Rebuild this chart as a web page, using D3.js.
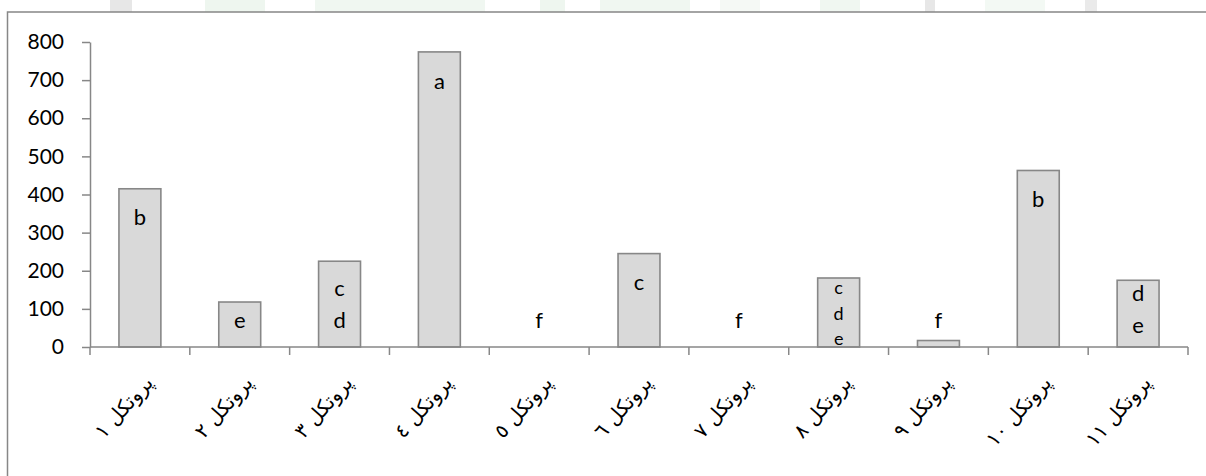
<!DOCTYPE html>
<html>
<head>
<meta charset="utf-8">
<script src="https://cdn.jsdelivr.net/npm/d3@7/dist/d3.min.js"></script>
<style>
  html, body { margin: 0; padding: 0; background: #ffffff; }
  svg { display: block; }
</style>
</head>
<body>
<svg id="chart" width="1206" height="476"></svg>
<script>
// Protocol names (x categories)
const categories = [
  "پروتکل ١", "پروتکل ٢", "پروتکل ٣", "پروتکل ٤", "پروتکل ٥", "پروتکل ٦",
  "پروتکل ٧", "پروتکل ٨", "پروتکل ٩", "پروتکل ١٠", "پروتکل ١١"
];
// Mean value per protocol
const values = [415, 118, 225, 774, 0, 245, 0, 181, 17, 463, 175];
// Significance groups (letters stacked one per line)
const groups = ["b", "e", "c d", "a", "f", "c", "f", "c d e", "f", "b", "d e"];
// Y axis ticks
const yTicks = [0, 100, 200, 300, 400, 500, 600, 700, 800];

const svg = d3.select("#chart");

const gridColor = "#878787";
const fontLatin = "Lato, 'Open Sans', sans-serif";
const fontArabic = "'DejaVu Sans', sans-serif";

// faint page background strip above the chart frame
const strip = svg.append("g").attr("opacity", 0.35);
[[110, 22, "#bdbdbd"], [205, 60, "#cfe6d2"], [315, 170, "#d6ead8"], [540, 25, "#cfe6d2"],
 [600, 90, "#d6ead8"], [720, 40, "#e3efe4"], [820, 40, "#d6ead8"], [925, 10, "#bdbdbd"],
 [985, 60, "#dfeee0"], [1085, 12, "#c4c4c4"]].forEach(([x, w, c]) => {
  strip.append("rect").attr("x", x).attr("y", 0).attr("width", w).attr("height", 12).attr("fill", c);
});

// chart frame (extends past the right and bottom edge)
svg.append("rect")
  .attr("x", 7.5).attr("y", 12)
  .attr("width", 1240).attr("height", 520)
  .attr("fill", "#ffffff")
  .attr("stroke", gridColor).attr("stroke-width", 1.5);

const plot = { left: 90, right: 1188, top: 42, bottom: 347 };

const y = d3.scaleLinear().domain([0, 800]).range([plot.bottom, plot.top]);
const xBand = d3.scaleBand().domain(categories).range([plot.left, plot.right])
  .paddingInner(0.58).paddingOuter(0.29);
const xCat = d3.scaleBand().domain(categories).range([plot.left, plot.right]).padding(0);

// Y axis
const yAxis = svg.append("g")
  .attr("transform", `translate(${plot.left},0)`)
  .call(d3.axisLeft(y).tickValues(yTicks).tickSize(8).tickPadding(18).tickSizeOuter(0));
yAxis.select(".domain").attr("stroke", gridColor).attr("stroke-width", 1.5);
yAxis.selectAll(".tick line").attr("stroke", gridColor).attr("stroke-width", 1.5);
yAxis.selectAll(".tick text")
  .attr("font-family", fontLatin).attr("font-size", 21).attr("fill", "#000");

// Bars
svg.append("g").selectAll("rect")
  .data(values)
  .join("rect")
  .attr("x", (d, i) => xBand(categories[i]))
  .attr("width", xBand.bandwidth())
  .attr("y", d => y(d))
  .attr("height", d => y(0) - y(d))
  .attr("fill", "#d9d9d9")
  .attr("stroke", gridColor)
  .attr("stroke-width", 1.6);

// X axis line with ticks between categories
const xg = svg.append("g");
xg.append("line")
  .attr("x1", plot.left).attr("x2", plot.right)
  .attr("y1", y(0)).attr("y2", y(0))
  .attr("stroke", gridColor).attr("stroke-width", 1.5);
const boundaries = categories.map(c => xCat(c)).concat([xCat(categories[categories.length - 1]) + xCat.bandwidth()]);
xg.selectAll("line.tick")
  .data(boundaries)
  .join("line")
  .attr("class", "tick")
  .attr("x1", d => d).attr("x2", d => d)
  .attr("y1", y(0)).attr("y2", y(0) + 8)
  .attr("stroke", gridColor).attr("stroke-width", 1.5);

// Rotated category labels
xg.selectAll("text")
  .data(categories)
  .join("text")
  .attr("transform", d => `translate(${xCat(d) + xCat.bandwidth() / 2 + 9},${y(0) + 32}) rotate(-48)`)
  .attr("text-anchor", "end")
  .attr("dy", "0.35em")
  .attr("font-family", fontArabic)
  .attr("font-size", 20)
  .attr("fill", "#000")
  .text(d => d);

// Group letters inside / above bars
const labels = svg.append("g");
groups.forEach((g, i) => {
  const lines = g.split(" ");
  const n = lines.length;
  const small = n >= 3;
  const lineH = small ? 25.5 : 32;
  const fs = small ? 18 : 22;
  const top = y(values[i]);
  const barH = y(0) - top;
  let boxTop = Math.min(top + 14, y(0) - 10 - n * lineH);
  if (barH > lineH) boxTop = Math.max(boxTop, top - 2);
  const cx = xBand(categories[i]) + xBand.bandwidth() / 2;
  lines.forEach((t, k) => {
    labels.append("text")
      .attr("x", cx)
      .attr("y", boxTop + lineH * (k + 0.5))
      .attr("dy", "0.3em")
      .attr("text-anchor", "middle")
      .attr("font-family", fontLatin)
      .attr("font-size", fs)
      .attr("fill", "#000")
      .text(t);
  });
});
</script>
</body>
</html>
